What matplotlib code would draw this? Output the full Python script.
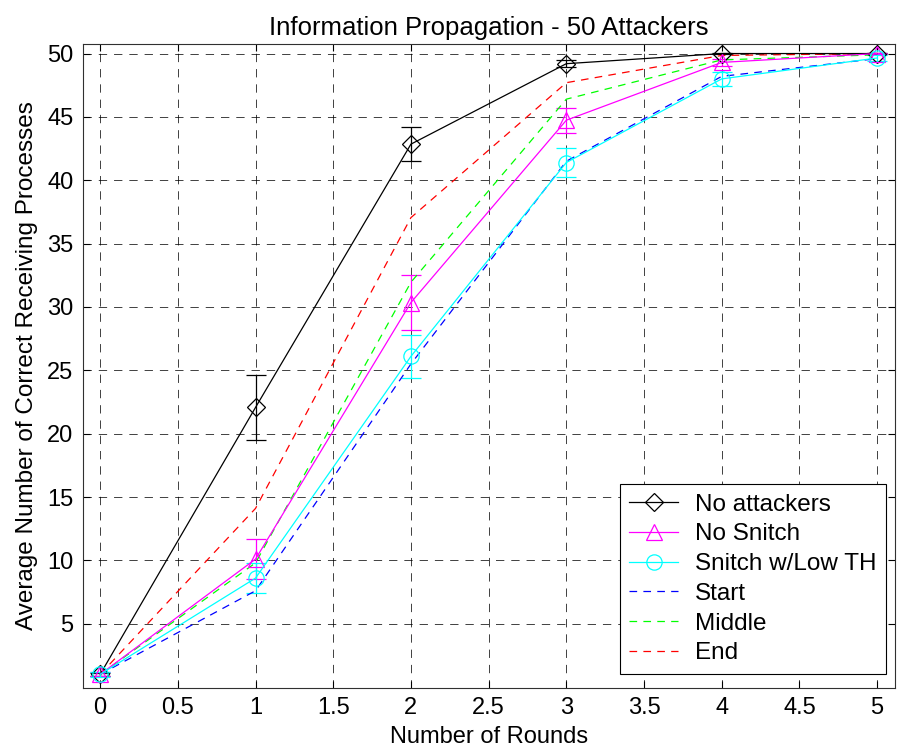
import matplotlib
matplotlib.use("Agg")
import matplotlib.pyplot as plt

plt.rcParams['font.family'] = ['Liberation Sans', 'DejaVu Sans']
plt.rcParams['lines.scale_dashes'] = False

rounds = [0, 1, 2, 3, 4, 5]

no_attackers = [1.0, 22.07, 42.85, 49.2, 50.0, 50.0]
no_attackers_err = [0.1, 2.57, 1.35, 0.3, 0.05, 0.05]

no_snitch = [1.0, 10.1, 30.35, 44.74, 49.3, 50.0]
no_snitch_err = [0.15, 1.55, 2.15, 1.0, 0.25, 0.05]

snitch_low_th = [1.0, 8.6, 26.1, 41.4, 48.0, 49.65]
snitch_low_th_err = [0.2, 1.2, 1.7, 1.15, 0.55, 0.2]

start = [1.0, 7.6, 25.5, 41.5, 48.2, 49.6]
middle = [1.0, 9.8, 31.95, 46.4, 49.5, 49.9]
end = [1.0, 14.1, 37.05, 47.7, 49.85, 50.0]

x_ticks = [0, 0.5, 1, 1.5, 2, 2.5, 3, 3.5, 4, 4.5, 5]
x_tick_labels = ['0', '0.5', '1', '1.5', '2', '2.5', '3', '3.5', '4', '4.5', '5']
y_ticks = [5, 10, 15, 20, 25, 30, 35, 40, 45, 50]

dash = (0, (5.5, 4.5))

fig = plt.figure(figsize=(8.97, 7.52), dpi=100)
ax = fig.add_axes([0.0929, 0.0855, 0.9049, 0.8556])

eb_kw = dict(lw=0.9, elinewidth=0.9, capsize=7, capthick=0.9,
             markerfacecolor='none', markeredgewidth=0.9)

e1 = ax.errorbar(rounds, no_attackers, yerr=no_attackers_err, color='k',
                 marker='D', markersize=9, **eb_kw)
e2 = ax.errorbar(rounds, no_snitch, yerr=no_snitch_err, color='#ff00ff',
                 marker='^', markersize=11, **eb_kw)
e3 = ax.errorbar(rounds, snitch_low_th, yerr=snitch_low_th_err, color='#00ffff',
                 marker='o', markersize=11, **eb_kw)
l4, = ax.plot(rounds, start, color='#0000ff', lw=0.9, linestyle=dash)
l5, = ax.plot(rounds, middle, color='#00ff00', lw=0.9, linestyle=dash)
l6, = ax.plot(rounds, end, color='#ff0000', lw=0.9, linestyle=dash)

ax.set_xlim(-0.108, 5.115)
ax.set_ylim(-0.05, 50.73)
ax.set_xticks(x_ticks)
ax.set_xticklabels(x_tick_labels)
ax.set_yticks(y_ticks)
ax.tick_params(direction='in', top=True, right=True, length=5,
               width=0.8, labelsize=17, pad=7)
ax.grid(True, color='k', linestyle=(0, (6, 5)), linewidth=0.7, alpha=0.75)
ax.set_axisbelow(True)
for s in ax.spines.values():
    s.set_linewidth(0.8)
    s.set_color('#303030')

ax.set_title('Information Propagation - 50 Attackers', fontsize=18.5, pad=7)
ax.set_xlabel('Number of Rounds', fontsize=17, labelpad=5)
ax.set_ylabel('Average Number of Correct Receiving Processes', fontsize=17.5, labelpad=7)

leg = ax.legend([e1[0], e2[0], e3[0], l4, l5, l6],
                ['No attackers', 'No Snitch', 'Snitch w/Low TH', 'Start', 'Middle', 'End'],
                loc='lower right', bbox_to_anchor=(0.989, 0.021), borderaxespad=0,
                fontsize=17.5, fancybox=False, framealpha=1, edgecolor='k',
                handlelength=2.0, handletextpad=0.7, labelspacing=0.32, borderpad=0.4)
leg.get_frame().set_linewidth(0.8)

fig.savefig('out.png', dpi=100)
